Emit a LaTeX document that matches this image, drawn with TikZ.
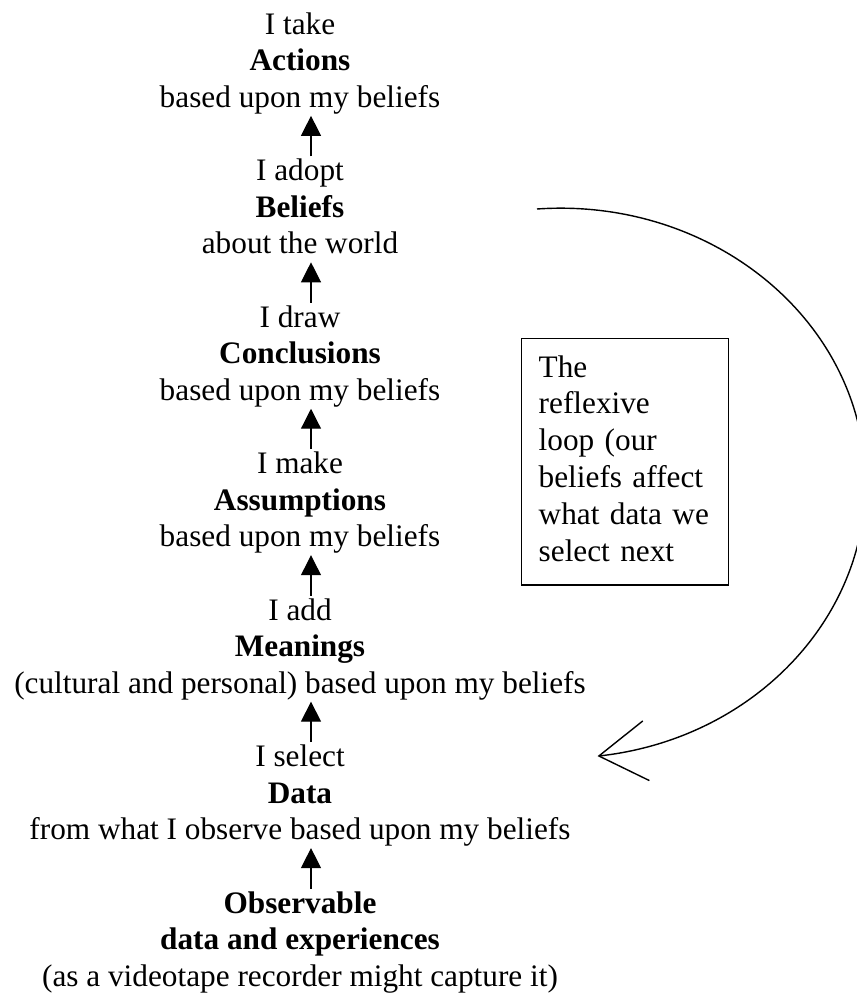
\documentclass[tikz,border=0pt]{standalone}
\usepackage{fontspec}
\setmainfont{Liberation Serif}
\usetikzlibrary{positioning, arrows.meta}

\tikzset{
  block/.style={align=center, inner sep=0pt,
    font=\fontsize{17.8pt}{20.8pt}\selectfont,
    execute at begin node=\strut, execute at end node=\strut},
  climb/.style={line width=0.7pt, shorten <=0.05cm, shorten >=-0.06cm,
    -{Triangle[width=0.4cm, length=0.4cm]}},
  notebox/.style={draw, line width=0.8pt, align=left, text width=3.46cm,
    inner xsep=0.34cm, inner ysep=0.25cm,
    font=\fontsize{17.8pt}{21pt}\selectfont,
    execute at begin node=\strut, execute at end node=\strut},
  reflex/.style={line width=0.8pt,
    -{Straight Barb[length=0.95cm, width=1.2cm, line width=0.8pt]}}
}

\begin{document}
\begin{tikzpicture}[x=0.02cm, y=-0.02cm, node distance=0.8cm]
\useasboundingbox (0,0) rectangle (857,993);

\node (act) [block, anchor=north] at (300,12.4) {I take\\\textbf{Actions}\\based upon my beliefs};
\node (bel) [block, below=of act] {I adopt\\\textbf{Beliefs}\\about the world};
\node (con) [block, below=of bel] {I draw\\\textbf{Conclusions}\\based upon my beliefs};
\node (ass) [block, below=of con] {I make\\\textbf{Assumptions}\\based upon my beliefs};
\node (mea) [block, below=of ass] {I add\\\textbf{Meanings}\\(cultural and personal) based upon my beliefs};
\node (dat) [block, below=of mea] {I select\\\textbf{Data}\\from what I observe based upon my beliefs};
\node (obs) [block, below=of dat] {\textbf{Observable}\\\textbf{data and experiences}\\(as a videotape recorder might capture it)};

% ladder of inference, bottom to top
\path ([xshift=0.22cm]bel.north) edge [climb] ([xshift=0.22cm]act.south)
  ([xshift=0.22cm]con.north) edge [climb] ([xshift=0.22cm]bel.south)
  ([xshift=0.22cm]ass.north) edge [climb] ([xshift=0.22cm]con.south)
  ([xshift=0.22cm]mea.north) edge [climb] ([xshift=0.22cm]ass.south)
  ([xshift=0.22cm]dat.north) edge [climb] ([xshift=0.22cm]mea.south)
  ([xshift=0.22cm]obs.north) edge [climb] ([xshift=0.22cm]dat.south);

\node (note) [notebox, anchor=north west] at (521,338) {The\\reflexive\\loop (our\\beliefs affect\\what data we\\select next};

% the reflexive loop
\coordinate (loopstart) at (537,209);
\draw [reflex] (loopstart) arc [start angle=-94.4, end angle=83, x radius=305, y radius=275];
\end{tikzpicture}
\end{document}
